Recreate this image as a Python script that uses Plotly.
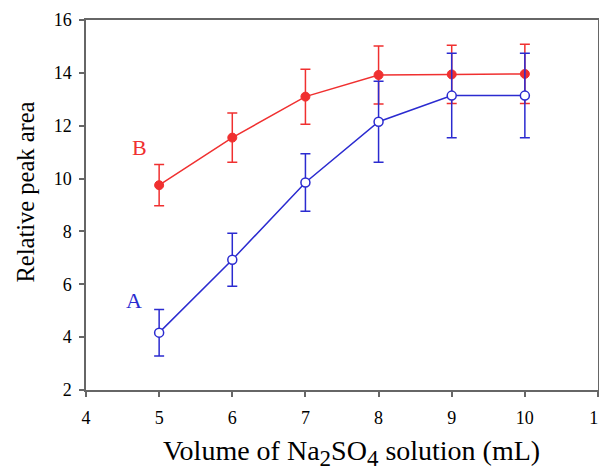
import plotly.graph_objects as go

volume = [5, 6, 7, 8, 9, 10]
b_area = [9.75, 11.55, 13.1, 13.92, 13.94, 13.96]
b_err = [0.78, 0.93, 1.04, 1.1, 1.1, 1.12]
a_area = [4.17, 6.93, 9.85, 12.15, 13.14, 13.14]
a_err = [0.88, 1.0, 1.09, 1.53, 1.6, 1.6]
x_ticks = [4, 5, 6, 7, 8, 9, 10, 11]
y_ticks = [2, 4, 6, 8, 10, 12, 14, 16]
x_title = "Volume of Na<sub><span style=\"font-size:23px\">2</span></sub>SO<sub><span style=\"font-size:23px\">4</span></sub> solution (mL)"
y_title = "Relative peak area"

RED = "#f03030"
BLUE = "#2b2bd0"
FONT = "Liberation Serif"

fig = go.Figure()
fig.add_trace(go.Scatter(
    x=volume, y=b_area, mode="lines+markers", name="B",
    line=dict(color=RED, width=1.5),
    marker=dict(color=RED, size=9, line=dict(color=RED, width=1)),
    error_y=dict(type="data", array=b_err, color=RED, thickness=1.5, width=5),
))
fig.add_trace(go.Scatter(
    x=volume, y=a_area, mode="lines+markers", name="A",
    line=dict(color=BLUE, width=1.5),
    marker=dict(color="white", size=9, line=dict(color=BLUE, width=1.5)),
    error_y=dict(type="data", array=a_err, color=BLUE, thickness=1.5, width=5),
))

fig.add_annotation(x=4.73, y=11.16, text="B", showarrow=False,
                   font=dict(family=FONT, size=22, color=RED))
fig.add_annotation(x=4.65, y=5.4, text="A", showarrow=False,
                   font=dict(family=FONT, size=22, color=BLUE))

# axis titles as annotations (reference titles are offset from the plot centre)
fig.add_annotation(xref="paper", yref="paper", x=0.5176, y=-0.169,
                   xanchor="center", yanchor="middle", text=x_title, showarrow=False,
                   font=dict(family=FONT, size=28, color="black"))
fig.add_annotation(xref="paper", yref="paper", x=-0.119, y=0.534,
                   xanchor="center", yanchor="middle", text=y_title, showarrow=False,
                   textangle=-90, font=dict(family=FONT, size=24.5, color="black"))

axis_common = dict(
    showgrid=False, zeroline=False, showline=True, linecolor="#666666",
    linewidth=1.5, mirror=True, ticks="outside", ticklen=5, tickwidth=1.5,
    tickcolor="#666666", tickfont=dict(family=FONT, size=18, color="black"),
    automargin=False, ticklabeloverflow="allow",
)
fig.update_xaxes(range=[4, 11], tickvals=x_ticks, ticklabelstandoff=6, **axis_common)
fig.update_yaxes(range=[2, 16], tickvals=y_ticks, ticklabelstandoff=4, **axis_common)

# page body has an 8px default margin; size the figure to fit inside the window
fig.update_layout(
    width=599, height=461,
    margin=dict(l=78, r=9, t=12, b=79),
    plot_bgcolor="white", paper_bgcolor="white",
    showlegend=False,
)
fig.write_html("out.html")
